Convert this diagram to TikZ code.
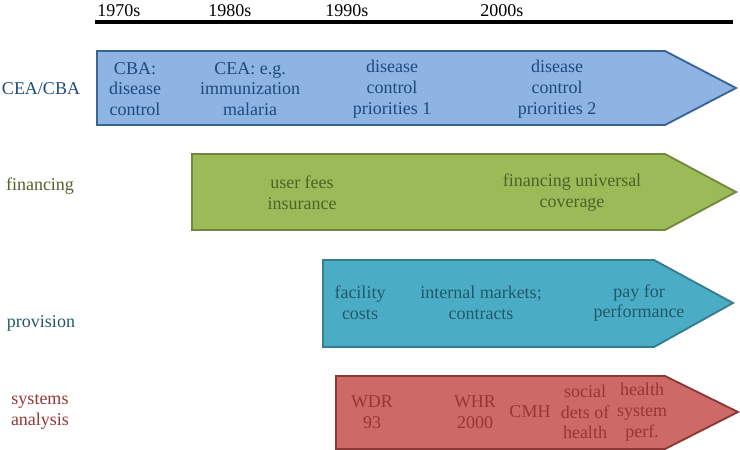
\documentclass[tikz,border=0pt]{standalone}
\usepackage{fontspec}
\setmainfont{Liberation Serif}

\definecolor{ceafill}{HTML}{8EB4E3}
\definecolor{ceaedge}{HTML}{3A6496}
\definecolor{ceatext}{HTML}{1F497D}
\definecolor{finfill}{HTML}{9BBB59}
\definecolor{finedge}{HTML}{71893F}
\definecolor{fintext}{HTML}{4F6228}
\definecolor{provfill}{HTML}{4BACC6}
\definecolor{provedge}{HTML}{357D91}
\definecolor{provtext}{HTML}{215968}
\definecolor{sysfill}{HTML}{CD6A67}
\definecolor{sysedge}{HTML}{8C3836}
\definecolor{systext}{HTML}{953735}

\tikzset{
  stage/.style={line width=1.4pt, line join=miter},
  txt/.style={align=center, inner sep=0pt},
}

\begin{document}
\begin{tikzpicture}[x=0.75pt, y=-0.75pt, font=\fontsize{13.5}{15.6}\selectfont]
\useasboundingbox (0,0) rectangle (740,450);

% time axis
\def\yax{22};
\draw[line width=2.3pt] (95,\yax) -- (733,\yax);

\node[txt, anchor=base west] (d70) at (97,16) {1970s};
\node[txt, anchor=base west] (d80) at (208,16) {1980s};
\node[txt, anchor=base west] (d90) at (325,16) {1990s};
\node[txt, anchor=base west] (d00) at (480,16) {2000s};

% arrows
\def\xs{665}; % shoulder
\def\xt{736}; % tip

\filldraw[stage, fill=ceafill, draw=ceaedge] (97,51) -- (\xs,51) -- (\xt,88) -- (\xs,125) -- (97,125) -- cycle;
\filldraw[stage, fill=finfill, draw=finedge] (192,154) -- (\xs,154) -- (\xt,192) -- (\xs,230) -- (192,230) -- cycle;
\filldraw[stage, fill=provfill, draw=provedge] (323,260) -- (654,260) -- (733,303) -- (654,347) -- (323,347) -- cycle;
\filldraw[stage, fill=sysfill, draw=sysedge] (336,376) -- (\xs,376) -- (738,412) -- (\xs,449) -- (336,449) -- cycle;

% row labels
\node[txt, text=ceatext] (lcea) at (41,89) {CEA/CBA};
\node[txt, text=fintext] (lfin) at (40,186) {financing};
\node[txt, text=provtext] (lprov) at (41,323) {provision};
\node[txt, text=systext] (lsys) at (40,412) {systems\\analysis};

% CEA/CBA
\node[txt, text=ceatext] (cba) at (135,89) {CBA:\\disease\\control};
\node[txt, text=ceatext] (cea) at (250,89) {CEA: e.g.\\immunization\\malaria};
\node[txt, text=ceatext] (dcp1) at (392,89) {disease\\control\\priorities 1};
\node[txt, text=ceatext] (dcp2) at (557,89) {disease\\control\\priorities 2};

% financing
\node[txt, text=fintext] (fees) at (302,193) {user fees\\insurance};
\node[txt, text=fintext] (uhc) at (572,193) {financing universal\\coverage};

% provision
\node[txt, text=provtext] (fac) at (360,303) {facility\\costs};
\node[txt, text=provtext] (mkt) at (481,303) {internal markets;\\contracts};
\node[txt, text=provtext] (p4p) at (639,303) {pay for\\performance};

% systems analysis
\node[txt, text=systext] (wdr) at (372,412) {WDR\\93};
\node[txt, text=systext] (whr) at (475,412) {WHR\\2000};
\node[txt, text=systext] (cmh) at (530,412) {CMH};
\node[txt, text=systext] (sdh) at (585,412) {social\\dets of\\health};
\node[txt, text=systext] (hsp) at (642,412) {health\\system\\perf.};

\end{tikzpicture}
\end{document}
